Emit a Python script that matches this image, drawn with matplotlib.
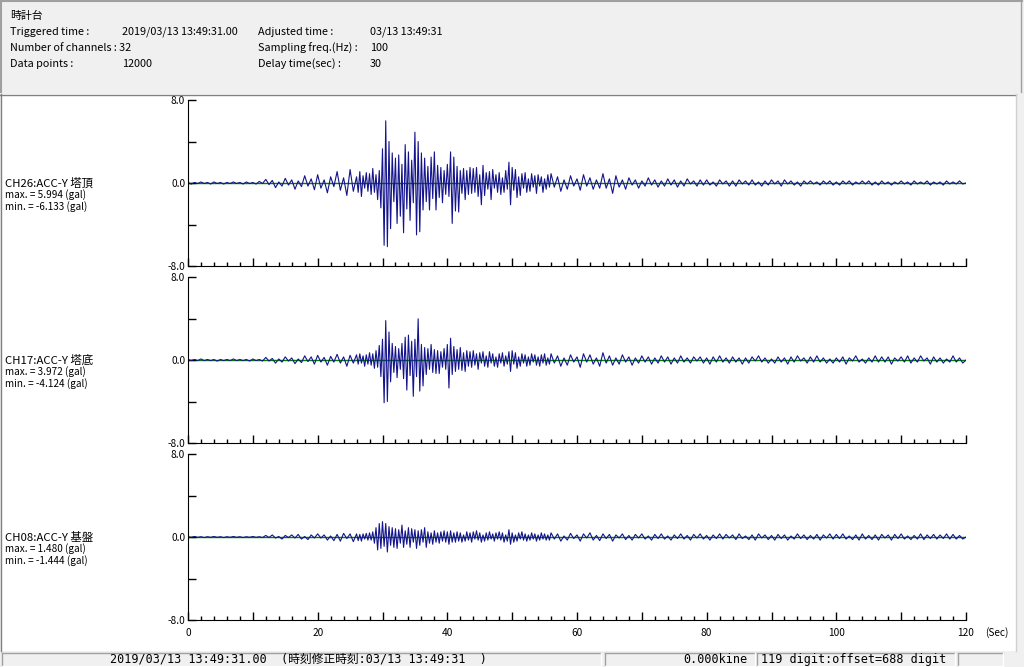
import matplotlib
matplotlib.use("Agg")
import matplotlib.pyplot as plt
import numpy as np
from matplotlib.patches import Rectangle
from matplotlib.lines import Line2D

# waveform samples (gal): pre = 0-26 s every 0.5 s, main = 26-56 s every 0.25 s,
# post = 56-120 s every 0.5 s
ch26_pre = [0.05, -0.1, 0.05, -0.05, 0.1, -0.05, 0.05, -0.1,
            0.1, -0.05, 0.05, -0.1, 0.05, -0.05, 0.1, -0.05,
            0.05, -0.1, 0.1, -0.05, 0.05, -0.1, 0.15, -0.05,
            0.35, -0.15, 0.25, -0.45, 0.1, -0.3, 0.45, -0.2,
            0.3, -0.6, 0.2, -0.35, 0.7, -0.3, 0.4, -0.65,
            0.8, -0.5, 0.3, -0.95, 0.6, -0.35, 1.1, -0.7,
            0.5, -1.2, 1.3, -0.8]
ch26_main = [0.6, -0.9, 1.1, -1.3, 0.7, -0.5, 1.0, -0.8,
             0.9, -1.1, 1.4, -0.9, 0.8, -1.6, 1.2, -2.4,
             3.3, -6.0, 5.994, -6.133, 4.0, -4.4, 2.9, -1.8,
             2.4, -3.9, 2.7, -3.2, 1.8, -4.8, 3.7, -2.5,
             3.0, -3.6, 2.2, -1.9, 4.9, -5.0, 4.0, -4.7,
             2.9, -2.6, 2.4, -1.8, 1.6, -2.6, 2.5, -1.5,
             3.0, -2.6, 1.7, -1.4, 1.5, -1.9, 1.2, -1.1,
             1.8, -1.3, 3.0, -3.9, 2.5, -2.7, 1.6, -2.8,
             1.2, -1.0, 1.4, -1.6, 1.2, -1.1, 1.5, -1.0,
             1.4, -0.9, 1.5, -1.3, 0.8, -2.1, 1.7, -1.2,
             1.0, -0.6, 1.1, -1.6, 1.3, -0.5, 0.8, -0.9,
             1.0, -1.1, 0.5, -0.9, 1.2, -0.6, 2.0, -2.1,
             1.5, -0.7, 1.3, -1.4, 0.6, -1.2, 0.9, -0.5,
             1.0, -0.9, 0.4, -0.8, 0.9, -0.4, 0.7, -1.0,
             0.8, -0.3, 0.6, -0.9, 0.4, -0.6, 0.8, -0.4]
ch26_post = [0.9, -0.4, 0.6, -0.8, 0.3, -0.6, 0.7, -0.3,
             0.4, -0.7, 0.8, -0.3, 0.5, -0.6, 0.3, -0.5,
             0.9, -0.5, 0.4, -1.0, 0.7, -0.4, 0.3, -0.6,
             0.5, -0.2, 0.3, -0.5, 0.2, -0.3, 0.5, -0.2,
             0.3, -0.4, 0.2, -0.3, 0.4, -0.2, 0.3, -0.4,
             0.2, -0.3, 0.4, -0.1, 0.2, -0.3, 0.3, -0.2,
             0.3, -0.2, 0.1, -0.3, 0.3, -0.1, 0.2, -0.3,
             0.2, -0.3, 0.3, -0.1, 0.2, -0.2, 0.3, -0.2,
             0.1, -0.3, 0.2, -0.2, 0.3, -0.1, 0.2, -0.3,
             0.3, -0.1, 0.2, -0.2, 0.1, -0.3, 0.2, -0.1,
             0.2, -0.1, 0.1, -0.2, 0.2, -0.1, 0.2, -0.2,
             0.1, -0.2, 0.2, -0.1, 0.2, -0.2, 0.1, -0.1,
             0.2, -0.1, 0.2, -0.2, 0.1, -0.2, 0.2, -0.1,
             0.1, -0.2, 0.1, -0.1, 0.2, -0.1, 0.1, -0.2,
             0.2, -0.1, 0.1, -0.1, 0.2, -0.2, 0.1, -0.1,
             0.1, -0.2, 0.2, -0.1, 0.1, -0.1, 0.2, -0.1,
             0.0]

ch17_pre = [0.05, -0.05, 0.05, -0.05, 0.1, -0.05, 0.05, -0.05,
            0.05, -0.1, 0.05, -0.05, 0.05, -0.05, 0.1, -0.05,
            0.05, -0.05, 0.05, -0.1, 0.1, -0.05, 0.05, -0.1,
            0.25, -0.1, 0.15, -0.3, 0.1, -0.2, 0.3, -0.1,
            0.2, -0.35, 0.1, -0.25, 0.4, -0.15, 0.3, -0.4,
            0.45, -0.2, 0.25, -0.5, 0.35, -0.2, 0.55, -0.3,
            0.3, -0.6, 0.45, -0.3]
ch17_main = [0.5, -0.4, 0.6, -0.3, 0.4, -0.6, 0.5, -0.4,
             0.7, -0.5, 0.6, -0.8, 0.9, -0.7, 1.4, -1.6,
             2.0, -4.124, 3.8, -4.0, 2.7, -2.1, 1.6, -1.2,
             1.3, -1.7, 1.1, -0.9, 1.6, -1.8, 2.2, -2.9,
             2.4, -1.5, 1.8, -3.5, 2.0, -1.6, 3.972, -3.0,
             1.5, -2.5, 1.2, -1.4, 1.1, -0.9, 1.5, -1.2,
             1.0, -1.3, 0.9, -1.3, 0.8, -0.7, 1.1, -0.9,
             1.5, -2.7, 2.1, -1.4, 1.3, -1.1, 1.0, -0.9,
             1.2, -1.0, 0.7, -1.1, 0.9, -0.6, 0.8, -0.7,
             0.9, -0.5, 0.6, -0.9, 0.7, -0.3, 0.8, -0.6,
             0.4, -0.7, 0.8, -0.3, 0.6, -0.6, 0.3, -0.7,
             0.6, -0.3, 0.7, -0.6, 0.4, -0.4, 0.8, -1.1,
             0.9, -0.4, 0.7, -0.8, 0.3, -0.6, 0.6, -0.3,
             0.5, -0.6, 0.3, -0.5, 0.6, -0.2, 0.5, -0.5,
             0.3, -0.6, 0.5, -0.3, 0.6, -0.5, 0.2, -0.4]
ch17_post = [0.6, -0.3, 0.4, -0.6, 0.2, -0.5, 0.5, -0.2,
             0.3, -0.7, 0.6, -0.2, 0.5, -0.4, 0.2, -0.6,
             0.7, -0.3, 0.4, -0.5, 0.2, -0.4, 0.5, -0.2,
             0.3, -0.5, 0.2, -0.3, 0.4, -0.2, 0.3, -0.4,
             0.2, -0.3, 0.4, -0.2, 0.3, -0.4, 0.2, -0.3,
             0.4, -0.2, 0.2, -0.3, 0.3, -0.1, 0.3, -0.3,
             0.2, -0.4, 0.3, -0.2, 0.4, -0.2, 0.2, -0.3,
             0.3, -0.2, 0.2, -0.4, 0.2, -0.3, 0.3, -0.1,
             0.4, -0.2, 0.2, -0.3, 0.1, -0.3, 0.3, -0.2,
             0.2, -0.4, 0.3, -0.2, 0.4, -0.1, 0.2, -0.3,
             0.3, -0.2, 0.4, -0.2, 0.2, -0.3, 0.1, -0.3,
             0.2, -0.2, 0.3, -0.4, 0.2, -0.1, 0.4, -0.2,
             0.1, -0.3, 0.2, -0.2, 0.4, -0.2, 0.3, -0.2,
             0.3, -0.4, 0.2, -0.1, 0.3, -0.2, 0.4, -0.3,
             0.2, -0.2, 0.4, -0.1, 0.2, -0.4, 0.3, -0.2,
             0.2, -0.3, 0.1, -0.2, 0.4, -0.2, 0.2, -0.3,
             0.0]

ch08_pre = [0.03, -0.03, 0.05, -0.03, 0.03, -0.05, 0.03, -0.03,
            0.05, -0.03, 0.03, -0.05, 0.03, -0.03, 0.05, -0.03,
            0.03, -0.05, 0.03, -0.03, 0.05, -0.03, 0.03, -0.05,
            0.15, -0.05, 0.2, -0.1, 0.05, -0.2, 0.15, -0.05,
            0.2, -0.1, 0.25, -0.2, 0.05, -0.25, 0.2, -0.1,
            0.3, -0.1, 0.2, -0.3, 0.1, -0.35, 0.25, -0.4,
            0.35, -0.15, 0.3, -0.45]
ch08_main = [0.3, -0.35, 0.25, -0.4, 0.3, -0.2, 0.35, -0.3,
             0.4, -0.3, 0.5, -0.6, 0.9, -1.25, 1.3, -1.1,
             1.48, -0.9, 1.3, -1.444, 1.0, -0.8, 0.9, -1.0,
             0.8, -1.1, 0.7, -0.6, 1.15, -1.0, 0.6, -0.7,
             0.9, -1.0, 0.8, -0.5, 0.7, -1.1, 0.6, -0.8,
             0.7, -0.5, 0.9, -1.0, 0.5, -0.6, 0.4, -0.7,
             0.6, -0.5, 0.4, -0.6, 0.5, -0.4, 0.6, -0.5,
             0.5, -0.7, 0.6, -0.5, 0.4, -0.5, 0.5, -0.4,
             0.4, -0.5, 0.2, -0.4, 0.5, -0.3, 0.4, -0.5,
             0.5, -0.2, 0.6, -0.3, 0.4, -0.5, 0.2, -0.4,
             0.4, -0.3, 0.5, -0.2, 0.3, -0.4, 0.4, -0.2,
             0.5, -0.3, 0.4, -0.5, 0.2, -0.4, 0.7, -0.7,
             0.4, -0.5, 0.2, -0.4, 0.4, -0.2, 0.5, -0.3,
             0.3, -0.4, 0.2, -0.3, 0.4, -0.2, 0.3, -0.4,
             0.2, -0.3, 0.4, -0.2, 0.3, -0.3, 0.2, -0.3]
ch08_post = [0.4, -0.2, 0.3, -0.4, 0.1, -0.3, 0.35, -0.15,
             0.2, -0.4, 0.3, -0.1, 0.4, -0.3, 0.15, -0.35,
             0.3, -0.15, 0.25, -0.4, 0.2, -0.1, 0.3, -0.25,
             0.15, -0.3, 0.25, -0.1, 0.3, -0.2, 0.1, -0.3,
             0.25, -0.15, 0.3, -0.2, 0.1, -0.3, 0.2, -0.15,
             0.3, -0.2, 0.15, -0.3, 0.25, -0.1, 0.3, -0.2,
             0.15, -0.3, 0.2, -0.15, 0.3, -0.2, 0.25, -0.1,
             0.2, -0.25, 0.3, -0.15, 0.1, -0.25, 0.2, -0.3,
             0.3, -0.1, 0.2, -0.25, 0.15, -0.3, 0.25, -0.15,
             0.2, -0.3, 0.1, -0.2, 0.3, -0.15, 0.2, -0.25,
             0.15, -0.2, 0.25, -0.3, 0.2, -0.1, 0.3, -0.2,
             0.25, -0.15, 0.3, -0.2, 0.1, -0.25, 0.2, -0.3,
             0.3, -0.2, 0.15, -0.25, 0.2, -0.3, 0.25, -0.1,
             0.2, -0.3, 0.25, -0.15, 0.3, -0.2, 0.1, -0.25,
             0.15, -0.2, 0.3, -0.25, 0.2, -0.15, 0.25, -0.2,
             0.2, -0.15, 0.3, -0.2, 0.25, -0.2, 0.15, -0.2,
             0.0]

channels = ["CH26:ACC-Y 塔頂", "CH17:ACC-Y 塔底", "CH08:ACC-Y 基盤"]
max_labels = ["max. = 5.994 (gal)", "max. = 3.972 (gal)", "max. = 1.480 (gal)"]
min_labels = ["min. = -6.133 (gal)", "min. = -4.124 (gal)", "min. = -1.444 (gal)"]
waves = [(ch26_pre, ch26_main, ch26_post),
         (ch17_pre, ch17_main, ch17_post),
         (ch08_pre, ch08_main, ch08_post)]

header_rows = [
    ("Triggered time :", "2019/03/13 13:49:31.00", "Adjusted time :", "03/13 13:49:31"),
    ("Number of channels : 32", "", "Sampling freq.(Hz) :", "100"),
    ("Data points :", "12000", "Delay time(sec) :", "30"),
]
status_texts = ["2019/03/13 13:49:31.00  (時刻修正時刻:03/13 13:49:31  )",
                "0.000kine", "119 digit:offset=688 digit"]

W, H = 1024, 667
FONT = ["Noto Sans CJK JP", "DejaVu Sans"]
MONO = ["DejaVu Sans Mono", "Noto Sans CJK JP"]
WAVE = "#14148c"
GRID_GREEN = "#008000"


def fx(x):
    return x / W


def fy(y):
    return 1 - y / H


def box(fig, x0, y0, x1, y1, face, edge=None, lw=1.0):
    fig.add_artist(Rectangle((fx(x0), fy(y1)), fx(x1 - x0), (y1 - y0) / H,
                             transform=fig.transFigure, facecolor=face,
                             edgecolor=edge if edge else "none", lw=lw, zorder=0))


def hline(fig, x0, x1, y, color, lw=1.0):
    fig.add_artist(Line2D([fx(x0), fx(x1)], [fy(y), fy(y)], transform=fig.transFigure,
                          color=color, lw=lw, zorder=1))


def vline(fig, x, y0, y1, color, lw=1.0):
    fig.add_artist(Line2D([fx(x), fx(x)], [fy(y0), fy(y1)], transform=fig.transFigure,
                          color=color, lw=lw, zorder=1))


def build_time(pre, main, post):
    t_pre = 0.5 * np.arange(len(pre))
    t_main = 26 + 0.25 * np.arange(len(main))
    t_post = 56 + 0.5 * np.arange(len(post))
    t = np.concatenate([t_pre, t_main, t_post])
    y = np.concatenate([pre, main, post])
    return t, y


def main():
    fig = plt.figure(figsize=(W / 100, H / 100), dpi=100)
    fig.patch.set_facecolor("#f0f0f0")

    # header panel
    hline(fig, 0, 1022, 1, "#a0a0a0", 1.5)
    vline(fig, 1, 0, 92, "#a0a0a0", 1.5)
    vline(fig, 1021, 0, 92, "#a0a0a0", 1.0)
    fig.text(fx(10), fy(16), "時計台", family=FONT, fontsize=7.8, va="center")
    for i, (a, b, c, d) in enumerate(header_rows):
        y = fy(32 + 16 * i)
        fig.text(fx(10), y, a, family=FONT, fontsize=7.8, va="center")
        fig.text(fx(122), y, b, family=FONT, fontsize=7.8, va="center")
        fig.text(fx(258), y, c, family=FONT, fontsize=7.8, va="center")
        fig.text(fx(370), y, d, family=FONT, fontsize=7.8, va="center")

    # chart frame
    box(fig, 1, 94, 1016, 651, "white")
    hline(fig, 0, 1016, 94.5, "#808080")
    vline(fig, 0.5, 94, 651, "#808080")
    vline(fig, 1016, 94, 651, "#d0d0d0")

    # status bar
    segs = [(2, 601), (605, 755), (757, 955), (958, 1003)]
    for x0, x1 in segs:
        hline(fig, x0, x1, 653, "#a0a0a0")
        vline(fig, x0, 653, 666, "#a0a0a0")
        hline(fig, x0, x1, 666, "white")
        vline(fig, x1, 653, 666, "white")
    fig.text(fx(298), fy(659.5), status_texts[0], family=MONO, fontsize=8.5,
             ha="center", va="center")
    fig.text(fx(747), fy(659.5), status_texts[1], family=MONO, fontsize=8.5,
             ha="right", va="center")
    fig.text(fx(761), fy(659.5), status_texts[2], family=MONO, fontsize=8.5,
             ha="left", va="center")

    tops = [100, 277, 454]
    for k, top in enumerate(tops):
        ax = fig.add_axes([fx(188), fy(top + 166), fx(778), 166 / H])
        ax.set_facecolor("none")
        t, y = build_time(*waves[k])
        ax.axhline(0, color=GRID_GREEN, lw=1.0, zorder=1)
        ax.plot(t, y, color=WAVE, lw=0.8, zorder=2)
        ax.set_xlim(0, 120)
        ax.set_ylim(-8, 8)
        for s in ["top", "right"]:
            ax.spines[s].set_visible(False)
        ax.spines["left"].set_color("black")
        ax.spines["bottom"].set_color("black")
        ax.set_yticks([-8, -4, 0, 4, 8])
        ax.set_yticklabels(["-8.0", "", "0.0", "", "8.0"], family=FONT, fontsize=7.3)
        ax.set_xticks(np.arange(0, 121, 10))
        ax.set_xticks(np.arange(0, 121, 2), minor=True)
        if k == 2:
            ax.set_xticklabels([str(v) if v % 20 == 0 else "" for v in range(0, 121, 10)],
                               family=FONT, fontsize=7.3)
        else:
            ax.set_xticklabels([])
        ax.tick_params(axis="y", direction="in", length=6, width=1, pad=2)
        ax.tick_params(axis="x", which="major", direction="in", length=6, width=1, pad=6)
        ax.tick_params(axis="x", which="minor", direction="in", length=3, width=1)

        zero_y = top + 83
        fig.text(fx(5), fy(zero_y), channels[k], family=FONT, fontsize=8.2, va="center")
        fig.text(fx(5), fy(zero_y + 12), max_labels[k], family=FONT, fontsize=7.2,
                 va="center")
        fig.text(fx(5), fy(zero_y + 24), min_labels[k], family=FONT, fontsize=7.2,
                 va="center")

    fig.text(fx(985), fy(633), "(Sec)", family=FONT, fontsize=7.3, va="center")

    fig.savefig("out.png", dpi=100, facecolor=fig.get_facecolor())
    plt.close(fig)


main()
